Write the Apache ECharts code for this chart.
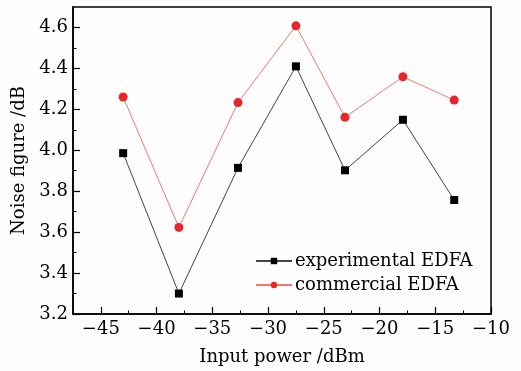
<!DOCTYPE html>
<html><head><meta charset="utf-8">
<script src="https://cdn.jsdelivr.net/npm/echarts@6/dist/echarts.min.js"></script>
<style>html,body{margin:0;padding:0;background:#fdfdfd}#c{width:521px;height:371px}</style>
</head><body><div id="c"></div>
<script>
const inputPower = [-43, -38, -32.7, -27.5, -23.1, -17.9, -13.3];
const experimentalEDFA = [3.986, 3.30, 3.914, 4.41, 3.902, 4.149, 3.757];
const commercialEDFA = [4.26, 3.623, 4.233, 4.608, 4.161, 4.359, 4.245];
const xMajorTicks = [-45, -40, -35, -30, -25, -20, -15, -10];
const xMinorTicks = [-47.5, -42.5, -37.5, -32.5, -27.5, -22.5, -17.5, -12.5];
const yMajorTicks = [3.2, 3.4, 3.6, 3.8, 4.0, 4.2, 4.4, 4.6];
const yMinorTicks = [3.3, 3.5, 3.7, 3.9, 4.1, 4.3, 4.5];

const FONT = 'DejaVu Serif';
const FS = 18;
const chart = echarts.init(document.getElementById('c'));
const lineStyleAxis = {color: '#000', width: 1.5};
chart.setOption({
  backgroundColor: '#fdfdfd',
  animation: false,
  grid: {left: 73, right: 30, top: 7, bottom: 54, show: true, borderColor: '#000', borderWidth: 1.5, containLabel: false},
  legend: {
    left: 250, top: 247, orient: 'vertical', itemWidth: 36, itemHeight: 8, itemGap: 6,
    textStyle: {fontFamily: FONT, fontSize: FS, color: '#000', padding: [0,0,0,-2]},
    data: ['experimental EDFA', 'commercial EDFA']
  },
  xAxis: [{
    type: 'value', min: -47.5, max: -10, position: 'bottom',
    name: 'Input power /dBm', nameLocation: 'middle', nameGap: 34,
    nameTextStyle: {fontFamily: FONT, fontSize: FS, color: '#000'},
    axisLine: {show: true, lineStyle: lineStyleAxis},
    axisTick: {inside: true, length: 7, customValues: xMajorTicks, lineStyle: {color: '#000', width: 1.2}},
    axisLabel: {customValues: xMajorTicks, fontFamily: FONT, fontSize: FS, color: '#000', margin: 6,
      formatter: v => String(v).replace('-', '\u2212')},
    splitLine: {show: false}
  }, {
    type: 'value', min: -47.5, max: -10, position: 'bottom',
    axisLine: {show: false},
    axisTick: {show: true, inside: true, length: 3.5, customValues: xMinorTicks, lineStyle: {color: '#000', width: 1}},
    axisLabel: {show: false}, splitLine: {show: false}
  }],
  yAxis: [{
    type: 'value', min: 3.2, max: 4.7, position: 'left',
    name: 'Noise figure /dB', nameLocation: 'middle', nameGap: 45,
    nameTextStyle: {fontFamily: FONT, fontSize: FS, color: '#000'},
    axisLine: {show: true, lineStyle: lineStyleAxis},
    axisTick: {inside: true, length: 7, customValues: yMajorTicks, lineStyle: {color: '#000', width: 1.2}},
    axisLabel: {customValues: yMajorTicks, fontFamily: FONT, fontSize: FS, color: '#000', margin: 5,
      formatter: v => v.toFixed(1)},
    splitLine: {show: false}
  }, {
    type: 'value', min: 3.2, max: 4.7, position: 'left',
    axisLine: {show: false},
    axisTick: {show: true, inside: true, length: 3.5, customValues: yMinorTicks, lineStyle: {color: '#000', width: 1}},
    axisLabel: {show: false}, splitLine: {show: false}
  }],
  series: [{
    name: 'experimental EDFA', type: 'line',
    data: inputPower.map((x, i) => [x, experimentalEDFA[i]]),
    symbol: 'rect', symbolSize: 8,
    itemStyle: {color: '#000'},
    lineStyle: {color: '#444', width: 1}
  }, {
    name: 'commercial EDFA', type: 'line',
    data: inputPower.map((x, i) => [x, commercialEDFA[i]]),
    symbol: 'circle', symbolSize: 9,
    itemStyle: {color: '#e8262a'},
    lineStyle: {color: '#f07a6a', width: 1}
  }]
});
</script></body></html>
